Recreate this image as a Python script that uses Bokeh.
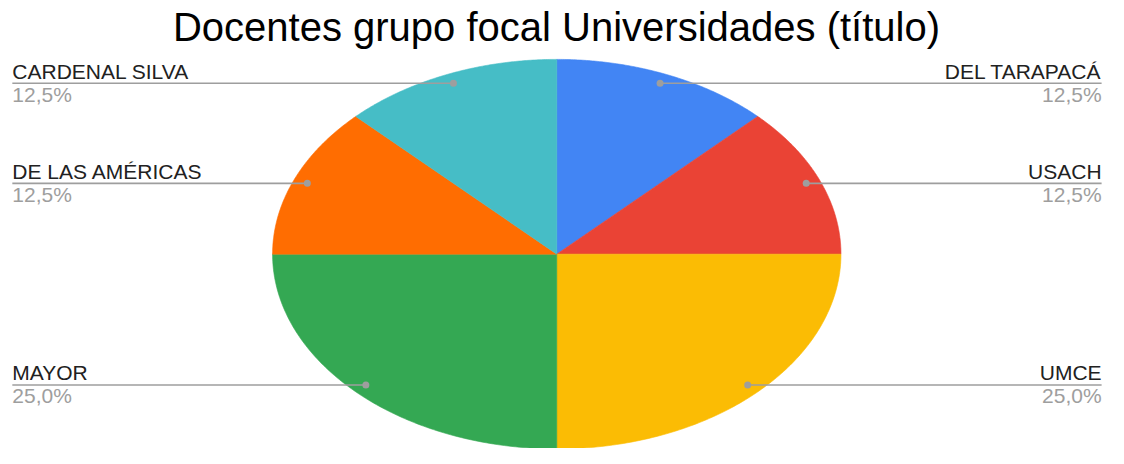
import numpy as np
from bokeh.plotting import figure
from bokeh.models import Range1d, ColumnDataSource
from bokeh.core.properties import value
from bokeh.embed import file_html
from bokeh.resources import INLINE

# ---- data ----
titulo = "Docentes grupo focal Universidades (título)"
universidades = ["DEL TARAPACÁ", "USACH", "UMCE", "MAYOR", "DE LAS AMÉRICAS", "CARDENAL SILVA"]
porcentajes = [12.5, 12.5, 25.0, 25.0, 12.5, 12.5]
colores = ["#4285F4", "#EA4335", "#FBBC04", "#34A853", "#FF6D01", "#46BDC6"]

# ---- layout (reference-pixel data space, y up) ----
W, H = 1108, 448
RW, RH = 1124, 464
p = figure(width=W, height=H, x_range=Range1d(0, RW), y_range=Range1d(0, RH),
           x_axis_type=None, y_axis_type=None, toolbar_location=None,
           output_backend="svg", min_border=0)
p.grid.visible = False
p.outline_line_color = None
p.background_fill_color = "white"
p.border_fill_color = "white"

sy = RH / H  # data units per screen pixel (y)
cx, cy = 564.3, RH - 262.7
rx, ry = 288.3, 201.7
FONT = value("Liberation Sans")
LBL = 21
TTL = 40

vals = np.array(porcentajes, dtype=float)
frac = vals / vals.sum()
ends = np.cumsum(frac) * 2 * np.pi
starts = ends - frac * 2 * np.pi

xs, ys = [], []
for a0, a1 in zip(starts, ends):
    t = np.linspace(a0, a1, 120)
    xs.append([cx] + list(cx + rx * np.sin(t)))
    ys.append([cy] + list(cy + ry * np.cos(t)))
p.patches(xs=xs, ys=ys, fill_color=colores, line_color=colores, line_width=0.6)

# leader lines, dots and labels
mids = (starts + ends) / 2
dx = cx + 0.95 * rx * np.sin(mids)
dy = cy + 0.95 * ry * np.cos(mids)
left = np.sin(mids) < 0
LX, RX = 12, 1117

lx0 = [LX if l else x for l, x in zip(left, dx)]
lx1 = [x if l else RX for l, x in zip(left, dx)]
p.segment(x0=lx0, y0=dy, x1=lx1, y1=dy, line_color="#9E9E9E", line_width=1.6)
p.scatter(x=dx, y=dy, size=7, fill_color="#9E9E9E", line_color=None)

tx = [LX if l else RX for l in left]
align = ["left" if l else "right" for l in left]
pct = [f"{v:.1f}".replace(".", ",") + "%" for v in vals]
comp = 0.35 * LBL * sy
src = ColumnDataSource(dict(x=tx, y1=dy + 5.0 + comp, y2=dy - 19.0 + comp,
                            name=universidades, pct=pct, align=align))
p.text(x="x", y="y1", text="name", text_align="align", text_baseline="alphabetic",
       text_font=FONT, text_font_size=f"{LBL}px", text_color="#212121", source=src)
p.text(x="x", y="y2", text="pct", text_align="align", text_baseline="alphabetic",
       text_font=FONT, text_font_size=f"{LBL}px", text_color="#9E9E9E", source=src)

p.text(x=[564], y=[RH - 4 * sy], text=[titulo], text_align="center",
       text_baseline="top", text_font=FONT, text_font_size=f"{TTL}px",
       text_color="#000000")

open("out.html", "w").write(file_html(p, INLINE))
